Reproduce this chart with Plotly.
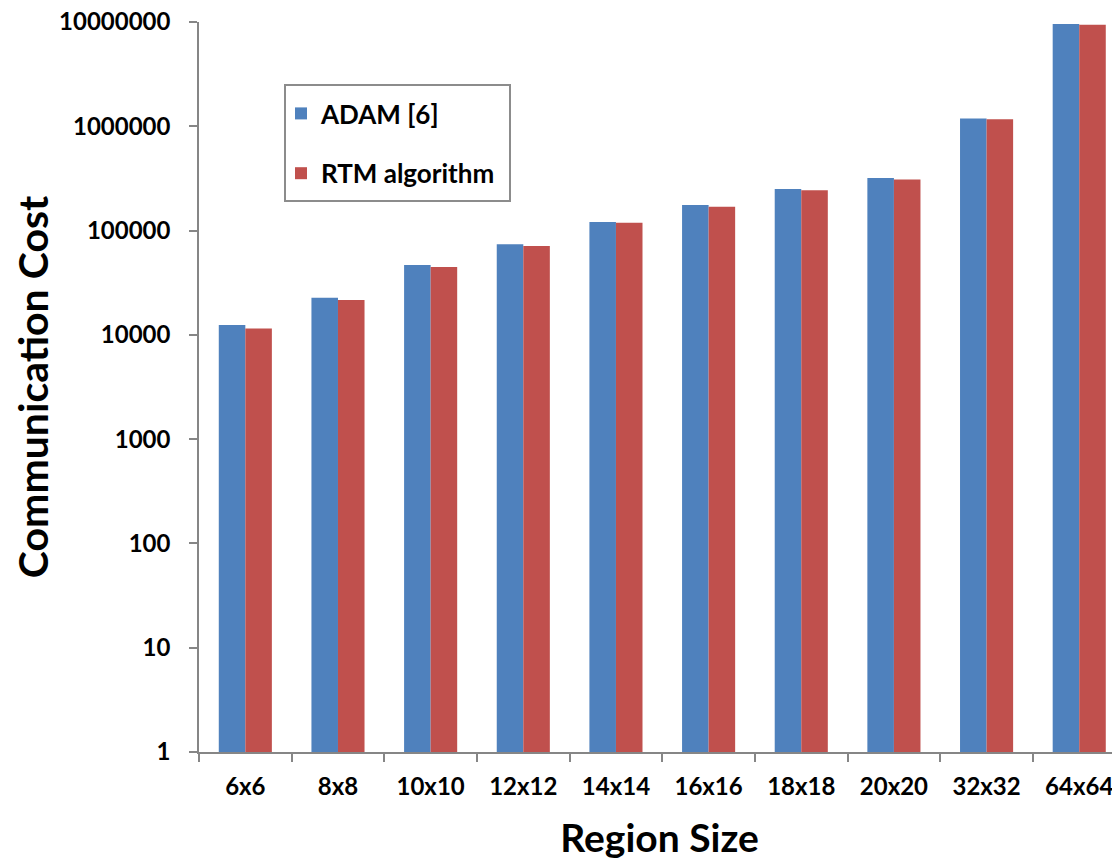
import plotly.graph_objects as go

categories = ["6x6", "8x8", "10x10", "12x12", "14x14", "16x16", "18x18", "20x20", "32x32", "64x64"]
adam = [12400, 22700, 46700, 73800, 120600, 175500, 250000, 318700, 1190000, 9550000]
rtm = [11500, 21600, 44700, 71000, 118800, 169000, 244000, 309500, 1165000, 9400000]
ytick_vals = [1, 10, 100, 1000, 10000, 100000, 1000000, 10000000]
ytick_text = ["1", "10", "100", "1000", "10000", "100000", "1000000", "10000000"]

FONT = "Lato"
AXC = "#868686"

fig = go.Figure()
fig.add_trace(go.Bar(name="ADAM [6]", x=categories, y=adam, marker_color="#4F81BD",
                     marker_line_width=0, legendgroup="a"))
fig.add_trace(go.Bar(name="RTM algorithm", x=categories, y=rtm, marker_color="#C0504D",
                     marker_line_width=0, legendgroup="b"))

# legend frame (plot-area pixels: x 199..1120, y 22..752)
fig.add_shape(type="rect", xref="paper", yref="paper",
              x0=(285 - 199) / 921, x1=(510 - 199) / 921,
              y0=(752 - 201) / 730, y1=(752 - 85) / 730,
              line=dict(color="#8c8c8c", width=2), fillcolor="rgba(0,0,0,0)", layer="above")

fig.update_layout(
    width=1112, height=853, autosize=False,
    margin=dict(l=191, r=0, t=14, b=109, pad=0),
    paper_bgcolor="white", plot_bgcolor="white",
    barmode="group", bargap=0.427, bargroupgap=0,
    font=dict(family=FONT, color="black"),
    legend=dict(x=(281 - 199) / 921, y=(752 - 90) / 730, xanchor="left", yanchor="top",
                borderwidth=0, bgcolor="rgba(255,255,255,0)",
                font=dict(family=FONT, size=26, color="black", weight="bold"),
                tracegroupgap=23, itemwidth=30),
    xaxis=dict(
        range=[-0.5, 9.44], showgrid=False, showline=True, linecolor=AXC, linewidth=1.5,
        ticks="outside", ticklen=8, tickcolor=AXC, tickwidth=1.5, tickson="boundaries",
        tickfont=dict(family=FONT, size=24, color="black", weight="bold"),
        ticklabelstandoff=12, ticklabeloverflow="allow", automargin=False,
        title=dict(text="Region Size", font=dict(family=FONT, size=39, color="black", weight="bold"),
                   standoff=26),
    ),
    yaxis=dict(
        type="log", range=[0, 7], showgrid=False, showline=True, linecolor=AXC, linewidth=1.5,
        ticks="outside", ticklen=8, tickcolor=AXC, tickwidth=1.5,
        tickvals=ytick_vals, ticktext=ytick_text,
        tickfont=dict(family=FONT, size=24, color="black", weight="bold"),
        ticklabelstandoff=14, ticklabeloverflow="allow", automargin=False,
        title=dict(text="Communication Cost", font=dict(family=FONT, size=41, color="black", weight="bold"),
                   standoff=8),
    ),
)

fig.write_html("out.html")
